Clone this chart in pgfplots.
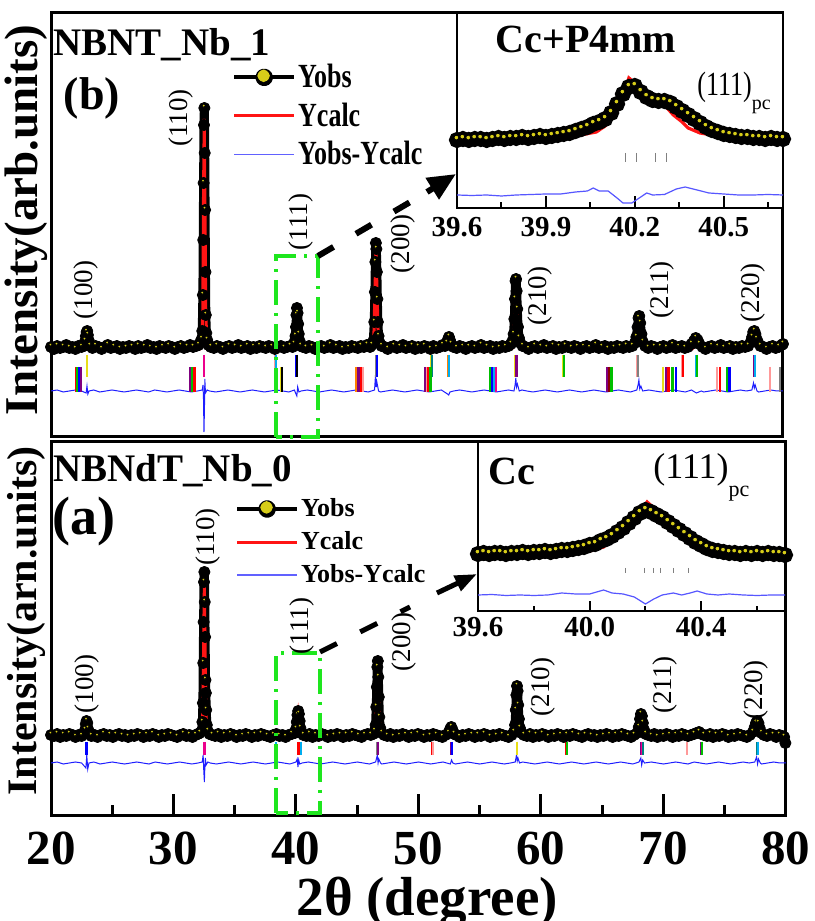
\documentclass[border=0pt]{standalone}
\usepackage{graphicx}
\usepackage{pgfplots}
\pgfplotsset{compat=1.18}
\usepackage{pgfplotstable}
\usepackage{fontspec}
\setmainfont{Liberation Serif}
\usetikzlibrary{arrows.meta}

\definecolor{obsyel}{RGB}{215,205,25}
\definecolor{calcred}{RGB}{255,20,20}
\definecolor{diffblue}{RGB}{30,30,255}
\definecolor{boxgreen}{RGB}{30,230,30}

\newcommand{\fs}[1]{\fontsize{#1}{#1}\selectfont}
% pixel of the reference -> picture coordinate (1px = 0.5pt)
\newcommand{\px}[2]{({(#1)*0.5pt},{(921-(#2))*0.5pt})}

\pgfplotsset{
  xrdpanel/.style={scale only axis, anchor=south west, xmin=20, xmax=80, ymin=0,
    ytick=\empty, axis line style={line width=1.5pt}},
  inset/.style={scale only axis, anchor=south west, xmin=39.6, xmax=40.7, ymin=0,
    ytick=\empty, axis line style={line width=1pt}, axis background/.style={fill=white},
    tick align=inside, xtick pos=left, every tick/.style={black, line width=1pt},
    xticklabel style={font=\fs{14.5}\bfseries, inner sep=0pt,
      /pgf/number format/fixed, /pgf/number format/fixed zerofill,
      /pgf/number format/precision=1, /pgf/number format/assume math mode=true}},
  obs/.style={black, line width=4.5pt, line join=round, mark=*, mark size=2.8pt, mark options={fill=black, draw=black, line width=0.4pt}},
  obshl/.style={only marks, mark=*, mark size=0.9pt, mark options={fill=obsyel, draw=none, xshift=-0.3pt, yshift=1.2pt}, forget plot},
  calc/.style={calcred, line width=1.5pt, no marks},
  diff/.style={diffblue, line width=0.5pt, no marks},
  bragg/.style={only marks, mark=|, scatter, point meta=explicit symbolic, forget plot,
    mark options={line width=1.1pt},
    scatter/classes={r={red}, g={green!75!black}, b={blue}, v={violet}, y={yellow!90!black},
      m={magenta}, p={pink!80!red}, c={cyan}, o={orange}, t={teal}, k={black},
      gr={gray}, dr={red!55!black}}},
  obsleg/.style={legend image code/.code={\draw[black,line width=2pt] (0pt,0pt) -- (30pt,0pt);
    \fill[black] (15pt,0pt) circle (2.2pt); \fill[obsyel] (14.7pt,0.8pt) circle (0.9pt);}},
  calcleg/.style={legend image code/.code={\draw[calcred,line width=1.5pt] (0pt,0pt) -- (30pt,0pt);}},
  diffleg/.style={legend image code/.code={\draw[diffblue!70,line width=0.6pt] (0pt,0pt) -- (30pt,0pt);}},
}

% ---------------- panel (b): NBNT_Nb_1 ----------------
\pgfplotstableread{
x y
20.00 90
20.25 88
20.50 91
20.75 89
21.00 90
21.25 92
21.50 89
21.75 90
22.00 88
22.25 91
22.50 90
22.70 91
22.80 96
22.86 101
22.92 105
22.97 106
23.02 102
23.08 97
23.18 91
23.40 89
23.65 91
23.90 90
24.15 88
24.40 90
24.65 92
24.90 89
25.15 90
25.40 91
25.65 88
25.90 90
26.15 89
26.40 91
26.65 90
26.90 88
27.15 91
27.40 89
27.65 90
27.90 92
28.15 89
28.40 90
28.65 88
28.90 91
29.15 90
29.40 89
29.65 91
29.90 90
30.15 88
30.40 90
30.65 91
30.90 89
31.15 90
31.40 92
31.65 90
31.90 91
32.10 92
32.25 95
32.35 98
32.40 106
32.45 142
32.48 197
32.51 254
32.54 312
32.57 329
32.60 284
32.63 227
32.66 165
32.69 122
32.73 104
32.80 97
32.90 92
33.10 90
33.35 89
33.60 91
33.85 90
34.10 88
34.35 90
34.60 91
34.85 89
35.10 90
35.35 92
35.60 89
35.85 90
36.10 91
36.35 88
36.60 90
36.85 89
37.10 91
37.35 90
37.60 89
37.85 91
38.10 90
38.35 88
38.60 90
38.85 91
39.10 89
39.35 90
39.60 91
39.80 90
39.92 93
39.99 96
40.04 101
40.08 110
40.12 122
40.16 129
40.21 124
40.26 113
40.31 103
40.38 96
40.47 91
40.65 90
40.90 89
41.15 91
41.40 90
41.65 88
41.90 90
42.15 91
42.40 89
42.65 90
42.90 92
43.15 89
43.40 90
43.65 91
43.90 88
44.15 90
44.40 89
44.65 91
44.90 90
45.15 89
45.40 91
45.65 90
45.90 92
46.15 90
46.30 92
46.42 96
46.50 115
46.55 145
46.59 175
46.63 194
46.67 188
46.71 165
46.75 138
46.79 115
46.85 101
46.95 94
47.10 91
47.35 90
47.60 88
47.85 90
48.10 91
48.35 89
48.60 90
48.85 92
49.10 89
49.35 90
49.60 91
49.85 88
50.10 90
50.35 89
50.60 91
50.85 90
51.10 88
51.35 91
51.60 89
51.85 90
52.10 92
52.30 91
52.45 94
52.55 98
52.62 100
52.70 97
52.80 93
53.00 90
53.25 89
53.50 91
53.75 90
54.00 88
54.25 90
54.50 91
54.75 89
55.00 90
55.25 92
55.50 89
55.75 90
56.00 91
56.25 88
56.50 90
56.75 89
57.00 91
57.25 90
57.50 91
57.70 93
57.82 96
57.92 103
57.98 118
58.03 138
58.08 156
58.12 158
58.17 146
58.22 128
58.28 110
58.36 99
58.48 94
58.65 91
58.90 90
59.15 88
59.40 90
59.65 91
59.90 89
60.15 90
60.40 92
60.65 89
60.90 90
61.15 91
61.40 88
61.65 90
61.90 89
62.15 91
62.40 90
62.65 89
62.90 91
63.15 90
63.40 88
63.65 90
63.90 91
64.15 89
64.40 90
64.65 92
64.90 89
65.15 90
65.40 91
65.65 88
65.90 90
66.15 89
66.40 91
66.65 90
66.90 89
67.15 91
67.40 90
67.65 91
67.85 94
67.98 100
68.08 110
68.16 119
68.22 121
68.30 114
68.40 103
68.52 95
68.70 91
68.95 89
69.20 91
69.45 90
69.70 88
69.95 90
70.20 91
70.45 89
70.70 90
70.95 92
71.20 89
71.45 90
71.70 91
71.95 89
72.20 90
72.50 93
72.70 96
72.85 99
73.00 97
73.15 93
73.40 90
73.65 88
73.90 90
74.15 91
74.40 89
74.65 90
74.90 92
75.15 89
75.40 90
75.65 91
75.90 88
76.15 90
76.40 89
76.65 91
76.90 90
77.15 91
77.35 95
77.47 100
77.56 105
77.65 106
77.74 103
77.84 98
77.98 94
78.15 91
78.40 90
78.65 88
78.90 90
79.15 91
79.40 89
79.65 90
79.90 92
80.00 93
}\obsB

\pgfplotstableread{
x y
20.00 87
22.70 87.5
22.85 90
22.95 103
23.05 90
23.25 87.5
32.20 88
32.35 91
32.44 125
32.50 240
32.56 318
32.62 235
32.68 130
32.76 98
32.90 90
33.40 88
39.80 88
39.98 92
40.07 103
40.16 125
40.24 113
40.32 99
40.45 90
40.70 88
46.30 89
46.47 103
46.56 150
46.64 187
46.72 148
46.81 105
47.00 92
47.30 88.5
52.40 88
52.53 92
52.62 97
52.71 92
52.90 88
57.80 89
57.97 108
58.05 138
58.11 150
58.18 133
58.28 102
58.45 91
58.80 88
67.90 88.5
68.05 96
68.20 109
68.33 98
68.52 90
68.80 88
72.55 88
72.88 94
73.20 88.5
77.30 89
77.50 96
77.63 102
77.76 96
77.98 90
78.30 88
80.00 88
}\calcB

\pgfplotstableread{
x y
20.0 46
20.5 47
21.0 45
21.5 46
22.0 47
22.5 46
22.88 44
22.95 51
23.02 43
23.12 46
23.5 47
24.0 45
24.5 46
25.0 47
25.5 46
26.0 45
26.5 46
27.0 47
27.5 46
28.0 45
28.5 47
29.0 46
29.5 45
30.0 46
30.5 47
31.0 46
31.5 45
32.0 46
32.40 47
32.46 52
32.50 38
32.54 5
32.58 30
32.61 58
32.66 44
32.80 47
33.0 46
33.5 45
34.0 46
34.5 47
35.0 46
35.5 45
36.0 46
36.5 47
37.0 46
37.5 45
38.0 46
38.5 47
39.0 46
39.5 45
39.95 47
40.08 43
40.15 41
40.22 50
40.32 45
40.5 46
41.0 47
41.5 46
42.0 45
42.5 46
43.0 47
43.5 46
44.0 45
44.5 46
45.0 47
45.5 46
46.0 45
46.52 47
46.60 62
46.66 50
46.71 55
46.85 46
47.0 45
47.5 46
48.0 47
48.5 46
49.0 45
49.5 46
50.0 47
50.5 46
51.0 45
51.5 46
52.0 47
52.50 43
52.60 42
52.70 45
53.0 46
53.5 47
54.0 46
54.5 45
55.0 46
55.5 47
56.0 46
56.5 45
57.0 46
57.5 47
57.95 46
58.04 52
58.10 59
58.16 50
58.23 53
58.38 46
58.6 47
59.0 46
59.5 45
60.0 46
60.5 47
61.0 46
61.5 45
62.0 46
62.5 47
63.0 46
63.5 45
64.0 46
64.5 47
65.0 46
65.5 45
66.0 46
66.5 47
67.0 46
67.5 45
68.02 47
68.12 52
68.19 57
68.26 48
68.35 51
68.5 46
69.0 47
69.5 46
70.0 45
70.5 46
71.0 47
71.5 46
72.0 45
72.5 47
72.9 44
73.3 46
73.5 45
74.0 46
74.5 47
75.0 46
75.5 45
76.0 46
76.5 47
77.0 46
77.45 47
77.58 54
77.65 49
77.72 52
77.87 46
78.0 45
78.5 46
79.0 47
79.5 46
80.0 46
}\diffB

\pgfplotstableread{
x y c
22.95 71 y
32.52 71 v
32.57 71 m
38.40 71 p
38.46 71 c
40.12 71 b
40.17 71 k
46.66 71 gr
46.71 71 b
51.18 71 y
51.23 71 t
52.58 71 o
52.64 71 c
58.05 71 y
58.10 71 b
58.15 71 v
62.00 71 y
62.06 71 g
68.06 71 p
68.12 71 gr
71.76 71 p
71.82 71 r
72.91 71 c
72.97 71 g
77.66 71 v
77.72 71 c
}\braggBa

\pgfplotstableread{
x y c
22.05 57.5 r
22.18 57.5 g
22.32 57.5 b
22.46 57.5 v
31.40 57.5 v
31.58 57.5 g
31.76 57.5 r
38.90 57.5 y
38.96 57.5 k
45.00 57.5 o
45.20 57.5 v
45.40 57.5 r
45.55 57.5 p
50.66 57.5 v
50.80 57.5 p
50.95 57.5 r
51.10 57.5 g
55.98 57.5 g
56.15 57.5 b
56.32 57.5 c
56.50 57.5 m
65.57 57.5 v
65.75 57.5 dr
65.95 57.5 g
70.16 57.5 y
70.40 57.5 v
70.62 57.5 r
70.95 57.5 g
71.25 57.5 b
74.59 57.5 p
74.85 57.5 r
75.40 57.5 g
75.62 57.5 b
78.93 57.5 p
79.75 57.5 gr
}\braggBb

% ---------------- panel (a): NBNdT_Nb_0 ----------------
\pgfplotstableread{
x y
20.00 80
20.25 79
20.50 81
20.75 78
21.00 80
21.25 79
21.50 81
21.75 80
22.00 78
22.25 80
22.50 79
22.70 81
22.78 85
22.84 91
22.90 94
22.96 92
23.02 86
23.10 81
23.30 79
23.55 80
23.80 78
24.05 80
24.30 81
24.55 79
24.80 80
25.05 78
25.30 80
25.55 81
25.80 79
26.05 80
26.30 78
26.55 80
26.80 79
27.05 81
27.30 80
27.55 78
27.80 80
28.05 79
28.30 81
28.55 80
28.80 78
29.05 80
29.30 79
29.55 81
29.80 80
30.05 79
30.30 78
30.55 80
30.80 81
31.05 79
31.30 80
31.55 78
31.80 80
32.00 81
32.15 82
32.30 84
32.36 93
32.40 112
32.43 152
32.46 193
32.49 233
32.52 243
32.55 213
32.58 178
32.61 135
32.64 122
32.67 105
32.72 90
32.80 84
32.95 81
33.15 80
33.40 79
33.65 81
33.90 78
34.15 80
34.40 79
34.65 81
34.90 80
35.15 78
35.40 80
35.65 79
35.90 81
36.15 80
36.40 78
36.65 80
36.90 79
37.15 81
37.40 80
37.65 79
37.90 78
38.15 80
38.40 81
38.65 79
38.90 80
39.15 78
39.40 80
39.65 81
39.90 82
40.00 86
40.06 93
40.12 100
40.18 104
40.24 101
40.30 94
40.36 87
40.45 82
40.60 80
40.85 79
41.10 81
41.35 78
41.60 80
41.85 79
42.10 81
42.35 80
42.60 78
42.85 80
43.10 79
43.35 81
43.60 80
43.85 78
44.10 80
44.35 79
44.60 81
44.85 80
45.10 79
45.35 78
45.60 80
45.85 81
46.10 80
46.30 81
46.42 84
46.50 90
46.55 108
46.60 128
46.64 148
46.68 154
46.72 138
46.76 118
46.80 98
46.88 87
47.00 82
47.20 80
47.45 79
47.70 81
47.95 78
48.20 80
48.45 79
48.70 81
48.95 80
49.20 78
49.45 80
49.70 79
49.95 81
50.20 80
50.45 78
50.70 80
50.95 79
51.20 81
51.45 80
51.70 79
51.95 78
52.20 80
52.45 82
52.58 86
52.68 88
52.78 85
52.90 81
53.10 80
53.35 78
53.60 80
53.85 79
54.10 81
54.35 80
54.60 78
54.85 80
55.10 79
55.35 81
55.60 80
55.85 78
56.10 80
56.35 79
56.60 81
56.85 80
57.10 79
57.35 78
57.60 80
57.78 83
57.88 90
57.94 105
57.99 120
58.04 129
58.09 124
58.14 110
58.20 96
58.28 87
58.40 82
58.60 80
58.85 79
59.10 81
59.35 78
59.60 80
59.85 79
60.10 81
60.35 80
60.60 78
60.85 80
61.10 79
61.35 81
61.60 80
61.85 78
62.10 80
62.35 79
62.60 81
62.85 80
63.10 79
63.35 78
63.60 80
63.85 81
64.10 79
64.35 80
64.60 78
64.85 80
65.10 79
65.35 81
65.60 80
65.85 78
66.10 80
66.35 79
66.60 81
66.85 80
67.10 79
67.35 78
67.60 80
67.85 82
67.98 88
68.08 96
68.16 101
68.24 99
68.32 92
68.42 85
68.55 81
68.75 80
69.00 79
69.25 81
69.50 78
69.75 80
70.00 79
70.25 81
70.50 80
70.75 78
71.00 80
71.25 79
71.50 81
71.75 80
72.00 79
72.25 80
72.50 81
72.70 82
72.90 83
73.10 81
73.30 80
73.55 79
73.80 81
74.05 78
74.30 80
74.55 79
74.80 81
75.05 80
75.30 78
75.55 80
75.80 79
76.05 81
76.30 80
76.55 79
76.80 78
77.05 80
77.30 83
77.45 88
77.55 92
77.65 94
77.75 92
77.85 87
78.00 82
78.20 80
78.45 79
78.70 81
78.95 80
79.20 78
79.45 80
79.70 79
79.85 78
79.95 72
}\obsA

\pgfplotstableread{
x y
20.00 77
22.60 77.5
22.78 80
22.90 88
23.00 80
23.20 77.5
32.20 78
32.36 84
32.44 150
32.52 232
32.60 140
32.68 92
32.80 80
33.20 77.5
39.90 78
40.05 86
40.18 100
40.30 88
40.45 79
40.80 77.5
46.30 78
46.50 86
46.60 120
46.68 145
46.76 115
46.86 86
47.10 78.5
52.40 77.5
52.58 82
52.68 85
52.80 81
53.00 77.5
57.75 78
57.92 95
58.04 123
58.14 100
58.28 83
58.55 78
67.90 78
68.05 88
68.18 97
68.30 88
68.50 79.5
68.80 77.5
72.50 77.5
72.85 80
73.20 77.5
77.30 78.5
77.50 86
77.65 92
77.80 85
78.00 79
78.40 77.5
80.00 77.5
}\calcA

\pgfplotstableread{
x y
20.0 52
20.5 53
21.0 51
21.5 52
22.0 53
22.5 52
22.85 47
22.92 60
23.00 46
23.10 52
23.5 53
24.0 51
24.5 52
25.0 53
25.5 52
26.0 51
26.5 52
27.0 53
27.5 52
28.0 51
28.5 53
29.0 52
29.5 51
30.0 52
30.5 53
31.0 52
31.5 51
32.0 52
32.35 53
32.42 60
32.47 45
32.52 33
32.56 48
32.60 57
32.66 50
32.80 53
33.0 52
33.5 51
34.0 52
34.5 53
35.0 52
35.5 51
36.0 52
36.5 53
37.0 52
37.5 51
38.0 52
38.5 53
39.0 52
39.5 51
40.00 53
40.10 56
40.16 48
40.22 55
40.30 51
40.5 52
41.0 53
41.5 52
42.0 51
42.5 52
43.0 53
43.5 52
44.0 51
44.5 52
45.0 53
45.5 52
46.0 51
46.50 53
46.64 60
46.70 52
46.76 56
46.90 52
47.0 51
47.5 52
48.0 53
48.5 52
49.0 51
49.5 52
50.0 53
50.5 52
51.0 51
51.5 52
52.0 53
52.60 51
52.70 55
52.80 52
53.0 51
53.5 52
54.0 53
54.5 52
55.0 51
55.5 52
56.0 53
56.5 52
57.0 51
57.5 52
57.90 53
58.00 60
58.06 54
58.12 57
58.25 52
58.5 53
59.0 52
59.5 51
60.0 52
60.5 53
61.0 52
61.5 51
62.0 52
62.5 53
63.0 52
63.5 51
64.0 52
64.5 53
65.0 52
65.5 51
66.0 52
66.5 53
67.0 52
67.5 51
68.00 53
68.15 57
68.22 50
68.30 55
68.45 52
69.0 53
69.5 52
70.0 51
70.5 52
71.0 53
71.5 52
72.0 51
72.5 53
73.0 52
73.5 51
74.0 52
74.5 53
75.0 52
75.5 51
76.0 52
76.5 53
77.0 52
77.45 53
77.60 58
77.68 51
77.75 56
77.90 52
78.0 51
78.5 52
79.0 53
79.5 52
80.0 52
}\diffA

\pgfplotstableread{
x y c
22.83 66.5 t
22.89 66.5 b
32.47 66.5 v
32.53 66.5 m
38.34 66.5 p
38.40 66.5 c
40.14 66.5 k
40.20 66.5 r
40.38 66.5 c
46.66 66.5 gr
46.72 66.5 v
51.15 66.5 r
51.21 66.5 p
52.70 66.5 v
52.76 66.5 b
58.01 66.5 k
58.07 66.5 y
62.09 66.5 r
62.15 66.5 g
68.18 66.5 v
68.24 66.5 m
68.30 66.5 t
71.89 66.5 t
71.95 66.5 p
73.11 66.5 v
73.17 66.5 g
77.68 66.5 t
77.74 66.5 c
}\braggA

% ---------------- insets ----------------
\pgfplotstableread{
x y
39.60 68
39.62 69
39.64 68
39.66 69
39.68 69
39.70 68
39.72 69
39.74 70
39.76 69
39.78 70
39.80 70
39.82 71
39.84 70
39.86 71
39.88 72
39.90 71
39.92 72
39.94 73
39.96 74
39.98 75
40.00 77
40.02 79
40.04 81
40.06 84
40.08 86
40.10 89
40.12 95
40.14 104
40.16 114
40.18 121
40.20 122
40.22 116
40.24 111
40.26 108
40.28 107
40.30 107
40.32 105
40.34 101
40.36 97
40.38 93
40.40 89
40.42 85
40.44 81
40.46 78
40.48 76
40.50 74
40.52 73
40.54 72
40.56 71
40.58 71
40.60 70
40.62 70
40.64 69
40.66 70
40.68 69
40.70 69
}\obsBi

\pgfplotstableread{
x y
39.60 69
39.90 70
40.00 72
40.07 76
40.10 82
40.13 92
40.16 110
40.18 130
40.20 125
40.22 113
40.24 108
40.28 107
40.30 103
40.33 93
40.36 86
40.38 80
40.42 75
40.48 72
40.60 70
40.70 70
}\calcBi

\pgfplotstableread{
x y
39.60 13
39.65 12.5
39.70 13
39.75 12
39.80 13
39.85 13.5
39.90 14
39.95 14
40.00 16
40.04 17
40.06 20
40.08 17
40.11 17
40.14 10
40.16 5
40.19 5
40.21 9
40.24 15
40.26 13
40.30 13.5
40.34 19
40.37 21
40.41 18
40.45 15
40.50 14
40.55 13
40.60 13
40.65 13.5
40.70 13
}\diffBi

\pgfplotstableread{
x y
40.167 50.5
40.204 50.5
40.270 50.5
40.305 50.5
}\braggBi

\pgfplotstableread{
x y
39.60 57
39.62 58
39.64 57
39.66 58
39.68 58
39.70 57
39.72 58
39.74 58
39.76 59
39.78 58
39.80 59
39.82 59
39.84 60
39.86 59
39.88 60
39.90 61
39.92 61
39.94 62
39.96 63
39.98 64
40.00 66
40.02 67
40.04 70
40.06 72
40.08 75
40.10 79
40.12 83
40.14 88
40.16 93
40.18 98
40.20 101
40.22 99
40.24 96
40.26 93
40.28 89
40.30 85
40.32 81
40.34 77
40.36 73
40.38 69
40.40 66
40.42 63
40.44 61
40.46 60
40.48 59
40.50 58
40.52 58
40.54 57
40.56 58
40.58 57
40.60 58
40.62 57
40.64 58
40.66 57
40.68 57
40.70 56
}\obsAi

\pgfplotstableread{
x y
39.60 57
39.90 58
40.00 60
40.05 64
40.09 74
40.12 83
40.155 88
40.206 109
40.25 98
40.30 86
40.37 71
40.42 61
40.48 58
40.70 57
}\calcAi

\pgfplotstableread{
x y
39.60 16
39.65 16.5
39.70 15.5
39.75 16
39.80 15.5
39.85 16
39.90 18
39.95 17
40.00 17
40.05 21
40.08 18
40.12 17
40.16 14
40.20 7
40.23 12
40.26 16
40.30 18
40.33 16
40.36 18
40.385 20
40.42 17
40.46 16
40.50 17
40.55 16
40.60 15.5
40.65 16
40.70 16
}\diffAi

\pgfplotstableread{
x y
40.127 40.5
40.195 40.5
40.227 40.5
40.252 40.5
40.300 40.5
40.353 40.5
}\braggAi

\begin{document}
\begin{tikzpicture}
\useasboundingbox (0,0) rectangle (407pt,460.5pt);

% ---- top panel (b)
\begin{axis}[xrdpanel, at={(25.5pt,242pt)}, width=366pt, height=212pt, ymax=424, xtick=\empty,
  ylabel={Intensity(arb.units)},
  ylabel style={font=\fs{23.5}\bfseries, at={(axis description cs:-0.034,0.512)}, anchor=center},
  legend style={at={(0.247,0.885)}, anchor=north west, draw=none, fill=none, inner sep=0pt,
    row sep=4pt, font=\fs{13}\bfseries, nodes={inner sep=1pt}},
  legend cell align=left]
\addplot[bragg, mark size=5.5pt] table[meta=c] {\braggBa};
\addplot[bragg, mark size=6.25pt] table[meta=c] {\braggBb};
\addplot[obs, obsleg] table {\obsB};
\addplot[obshl, each nth point=2] table {\obsB};
\addplot[calc, calcleg] table {\calcB};
\addplot[diff, diffleg] table {\diffB};
\legend{\scalebox{1}[1.3]{Yobs},\scalebox{1}[1.3]{Ycalc},\scalebox{1}[1.3]{Yobs-Ycalc}}
\end{axis}

% ---- bottom panel (a)
\begin{axis}[xrdpanel, at={(25.5pt,53pt)}, width=367.5pt, height=186.5pt, ymax=373,
  xtick={20,30,...,80}, minor xtick={25,35,...,75}, tick align=inside, xtick pos=left,
  major tick length=10.5pt, minor tick length=5pt, every tick/.style={black, line width=1.5pt},
  xticklabel style={font=\fs{24.5}\bfseries, inner sep=0pt, yshift=-8.5pt,
    /pgf/number format/assume math mode=true},
  xlabel={2θ (degree)},
  xlabel style={font=\fs{27.5}\bfseries, at={(axis description cs:0.512,0)}, anchor=center, yshift=-43.5pt},
  ylabel={Intensity(arn.units)},
  ylabel style={font=\fs{21}\bfseries, at={(axis description cs:-0.033,0.52)}, anchor=center},
  legend style={at={(0.25,0.855)}, anchor=north west, draw=none, fill=none, inner sep=0pt,
    row sep=4pt, font=\fs{13}\bfseries, nodes={inner sep=1pt}},
  legend cell align=left]
\addplot[bragg, mark size=3.25pt] table[meta=c] {\braggA};
\addplot[obs, obsleg] table {\obsA};
\addplot[obshl, each nth point=2] table {\obsA};
\addplot[calc, calcleg] table {\calcA};
\addplot[diff, diffleg] table {\diffA};
\legend{Yobs,Ycalc,Yobs-Ycalc}
\end{axis}

% ---- inset of (b)
\begin{axis}[inset, at={(228.5pt,356.5pt)}, width=163pt, height=97.5pt, ymax=195,
  xtick={39.6,39.9,40.2,40.5}, minor xtick={39.75,40.05,40.35,40.65},
  major tick length=6pt, minor tick length=3pt, xticklabel style={yshift=-4.25pt}]
\addplot[only marks, mark=|, mark size=2.25pt, gray, mark options={line width=0.4pt}] table {\braggBi};
\addplot[diffblue!75, line width=0.6pt] table {\diffBi};
\addplot[black, line width=3pt, mark=*, mark size=2.5pt] table {\obsBi};
\addplot[obshl, mark size=1.2pt] table {\obsBi};
\addplot[calc, line width=1.6pt] table {\calcBi};
\end{axis}

% ---- inset of (a)
\begin{axis}[inset, at={(239pt,155pt)}, width=153.5pt, height=84.5pt, ymax=169,
  xtick={39.6,40.0,40.4}, minor xtick={39.8,40.2,40.6},
  major tick length=5pt, minor tick length=2.5pt, xticklabel style={yshift=-3pt}]
\addplot[only marks, mark=|, mark size=1.25pt, gray, mark options={line width=0.4pt}] table {\braggAi};
\addplot[diffblue!75, line width=0.6pt] table {\diffAi};
\addplot[black, line width=3pt, mark=*, mark size=2.5pt] table {\obsAi};
\addplot[obshl, mark size=1.2pt] table {\obsAi};
\addplot[calc, line width=1.6pt] table {\calcAi};
\end{axis}

% ---- zoom boxes and arrows
\draw[boxgreen, line width=2pt, dash pattern=on 12.5pt off 4pt on 1.5pt off 4pt]
  \px{276}{437} rectangle \px{318}{256};
\draw[boxgreen, line width=2pt, dash pattern=on 12.5pt off 4pt on 1.5pt off 4pt]
  \px{276}{813} rectangle \px{320}{653};
\draw[line width=3pt, dash pattern=on 9pt off 13pt] \px{318}{256} -- \px{412}{201};
\draw[line width=3pt, -{Triangle[length=14pt,width=12pt]}] \px{427}{192} -- \px{456}{174};
\draw[line width=2.5pt, dash pattern=on 9.5pt off 13pt] \px{320}{652} -- \px{410}{607};
\draw[line width=2.5pt, -{Triangle[length=11pt,width=8pt]}] \px{437}{593} -- \px{477}{574};

% ---- panel titles
\node[anchor=base west, inner sep=0pt, font=\fs{19.5}\bfseries] at \px{53}{56} {NBNT\_Nb\_1};
\node[inner sep=0pt, font=\fs{23}\bfseries] at \px{92}{98} {(b)};
\node[anchor=base west, inner sep=0pt, font=\fs{19.5}\bfseries] at \px{53}{482} {NBNdT\_Nb\_0};
\node[inner sep=0pt, font=\fs{27}\bfseries] at \px{84}{522} {(a)};
\node[anchor=base, inner sep=0pt, font=\fs{20}\bfseries] at \px{586}{53} {Cc+P4mm};
\node[anchor=base west, inner sep=0pt, font=\fs{20}\bfseries] at \px{488}{485} {Cc};
\node[anchor=base west, inner sep=0pt, font=\fs{13}] at \px{697}{96}
  {\scalebox{1}[1.3]{(111)}\raisebox{-7pt}{\fs{10}pc}};
\node[anchor=base west, inner sep=0pt, font=\fs{18}] at \px{653}{479}
  {(111)\raisebox{-9pt}{\fs{11}pc}};

% ---- peak indices
\begin{scope}[every node/.style={rotate=90, inner sep=0pt, font=\fs{13.5}}]
\node at \px{86}{290} {(100)};
\node at \px{181}{118} {(110)};
\node at \px{301}{222} {(111)};
\node at \px{403}{244} {(200)};
\node at \px{540}{296} {(210)};
\node at \px{662}{290} {(211)};
\node at \px{753}{293} {(220)};
\node at \px{87}{684} {(100)};
\node at \px{208}{537} {(110)};
\node at \px{302}{626} {(111)};
\node at \px{404}{642} {(200)};
\node at \px{543}{687} {(210)};
\node at \px{665}{685} {(211)};
\node at \px{756}{690} {(220)};
\end{scope}
\end{tikzpicture}
\end{document}
